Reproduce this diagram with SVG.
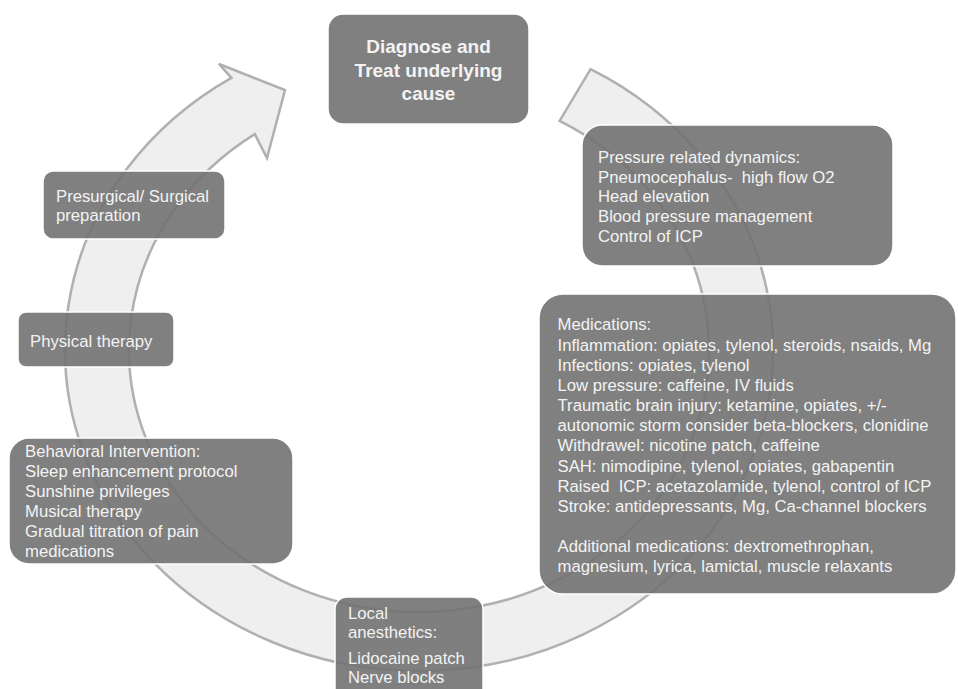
<svg xmlns="http://www.w3.org/2000/svg" width="958" height="689" viewBox="0 0 958 689">
  <style>
    .ring { fill: #efefef; stroke: #b0b0b0; stroke-width: 2.5; stroke-linejoin: miter; }
    .box { fill: #727272; fill-opacity: 0.9; stroke: #ffffff; stroke-width: 1.5; }
    .t { font-family: "Liberation Sans", Arial, sans-serif; font-size: 16.7px; fill: #f3f3f3; white-space: pre; }
    .tb { font-family: "Liberation Sans", Arial, sans-serif; font-size: 19px; font-weight: bold; fill: #f3f3f3; text-anchor: middle; }
  </style>
  <rect width="958" height="689" fill="#ffffff"/>
  <g id="connectors">
    <path class="ring" d="M590.6,69.2 A354,321 0 1,1 231.4,77.8 L219,64 L285,90 L267,158 L254.8,134.1 A290,262 0 1,0 559.6,120.9 Z"/>
  </g>
  <g id="diagnose">
    <rect class="box" x="328" y="14" width="201" height="110" rx="15"/>
    <text class="tb" x="428.5"><tspan x="428.5" y="53">Diagnose and</tspan><tspan x="428.5" y="76.5">Treat underlying</tspan><tspan x="428.5" y="100">cause</tspan></text>
  </g>
  <g id="pressure">
    <rect class="box" x="582" y="125" width="311" height="141" rx="20"/>
    <text class="t" xml:space="preserve"><tspan x="598" y="163">Pressure related dynamics:</tspan><tspan x="598" y="183">Pneumocephalus-  high flow O2</tspan><tspan x="598" y="202">Head elevation</tspan><tspan x="598" y="222">Blood pressure management</tspan><tspan x="598" y="242">Control of ICP</tspan></text>
  </g>
  <g id="medications">
    <rect class="box" x="539" y="294" width="417" height="300" rx="24"/>
    <text class="t" xml:space="preserve"><tspan x="557.5" y="330">Medications:</tspan><tspan x="557.5" y="350.5">Inflammation: opiates, tylenol, steroids, nsaids, Mg</tspan><tspan x="557.5" y="370.7">Infections: opiates, tylenol</tspan><tspan x="557.5" y="390.8">Low pressure: caffeine, IV fluids</tspan><tspan x="557.5" y="410.9">Traumatic brain injury: ketamine, opiates, +/-</tspan><tspan x="557.5" y="431">autonomic storm consider beta-blockers, clonidine</tspan><tspan x="557.5" y="451.2">Withdrawel: nicotine patch, caffeine</tspan><tspan x="557.5" y="471.5">SAH: nimodipine, tylenol, opiates, gabapentin</tspan><tspan x="557.5" y="491.7">Raised  ICP: acetazolamide, tylenol, control of ICP</tspan><tspan x="557.5" y="511.8">Stroke: antidepressants, Mg, Ca-channel blockers</tspan><tspan x="557.5" y="552.3">Additional medications: dextromethrophan,</tspan><tspan x="557.5" y="572.4">magnesium, lyrica, lamictal, muscle relaxants</tspan></text>
  </g>
  <g id="presurgical">
    <rect class="box" x="43" y="171" width="182" height="68" rx="10"/>
    <text class="t"><tspan x="56" y="202">Presurgical/ Surgical</tspan><tspan x="56" y="221">preparation</tspan></text>
  </g>
  <g id="physical">
    <rect class="box" x="18" y="312" width="156" height="55" rx="8"/>
    <text class="t" x="30" y="347">Physical therapy</text>
  </g>
  <g id="behavioral">
    <rect class="box" x="9" y="438" width="284" height="126" rx="20"/>
    <text class="t"><tspan x="25" y="457">Behavioral Intervention:</tspan><tspan x="25" y="477">Sleep enhancement protocol</tspan><tspan x="25" y="497">Sunshine privileges</tspan><tspan x="25" y="517">Musical therapy</tspan><tspan x="25" y="537">Gradual titration of pain</tspan><tspan x="25" y="557">medications</tspan></text>
  </g>
  <g id="local">
    <rect class="box" x="335" y="597" width="148" height="105" rx="12"/>
    <text class="t"><tspan x="348" y="619">Local</tspan><tspan x="348" y="638">anesthetics:</tspan><tspan x="348" y="664">Lidocaine patch</tspan><tspan x="348" y="683">Nerve blocks</tspan></text>
  </g>
</svg>
